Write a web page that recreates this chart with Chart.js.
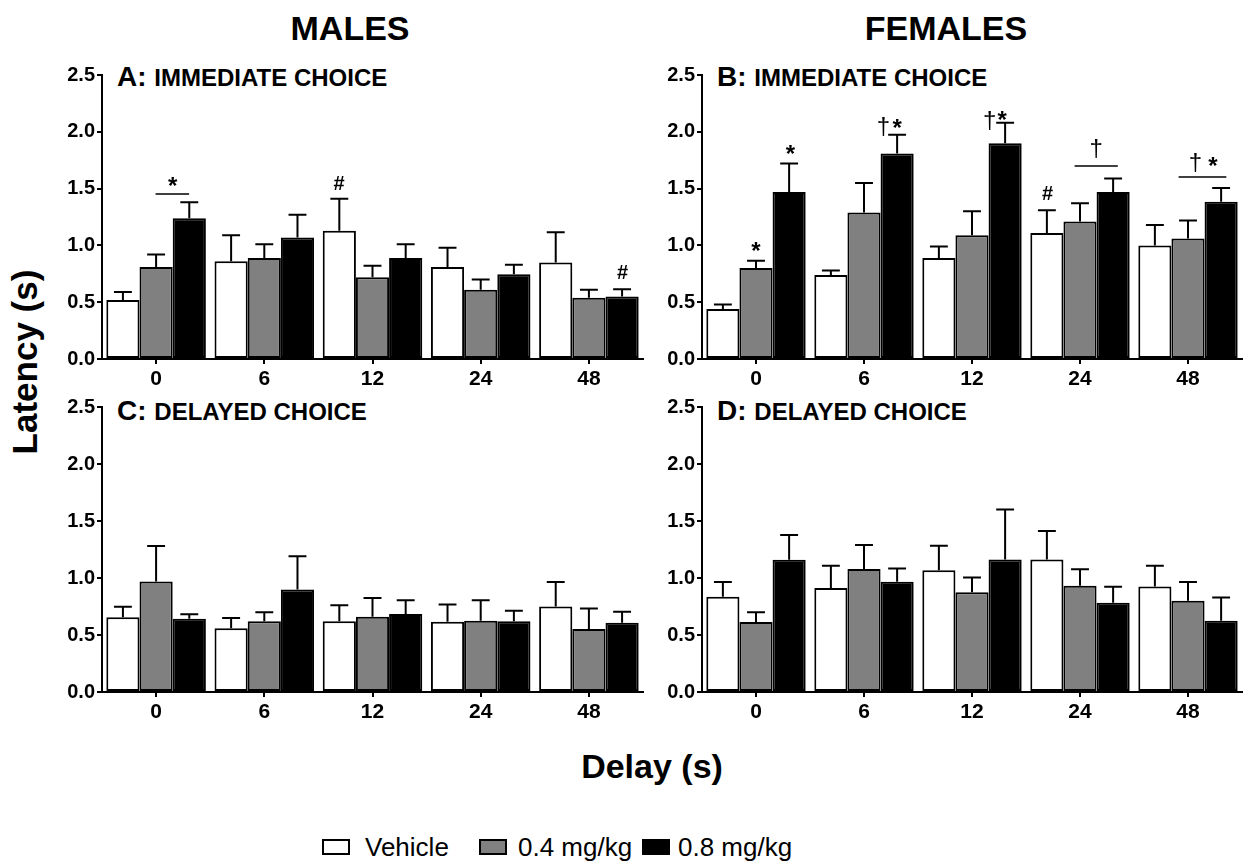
<!DOCTYPE html>
<html>
<head>
<meta charset="utf-8">
<script src="https://cdn.jsdelivr.net/npm/chart.js@4.4.0/dist/chart.umd.min.js"></script>
<style>
  body { margin: 0; width: 1250px; height: 863px; position: relative; overflow: hidden; background: #fff;
         font-family: "Liberation Sans", Arial, sans-serif; color: #000; }
  canvas { position: absolute; }
  .big { position: absolute; font-weight: bold; font-size: 34px; line-height: 34px; white-space: nowrap; }
  .ptitle { position: absolute; font-weight: bold; font-size: 28px; line-height: 28px; white-space: nowrap; }
  .ptitle span { font-size: 24px; }
  .box { position: absolute; top: 839px; width: 24px; height: 12px; border: 2px solid #000; }
  .leg { position: absolute; top: 834px; font-size: 26px; line-height: 26px; white-space: nowrap; }
</style>
</head>
<body>

<div class="big" style="left:350px; top:11px; transform:translateX(-50%);">MALES</div>
<div class="big" style="left:946px; top:11px; transform:translateX(-50%);">FEMALES</div>
<div class="big" style="left:24px; top:362px; font-size:35px; line-height:35px; transform:translate(-50%,-50%) rotate(-90deg);">Latency (s)</div>
<div class="big" style="left:652px; top:749px; transform:translateX(-50%);">Delay (s)</div>

<div class="ptitle" style="left:117px; top:63px;">A: <span>IMMEDIATE CHOICE</span></div>
<div class="ptitle" style="left:717px; top:63px;">B: <span>IMMEDIATE CHOICE</span></div>
<div class="ptitle" style="left:117px; top:397px;">C: <span>DELAYED CHOICE</span></div>
<div class="ptitle" style="left:717px; top:397px;">D: <span>DELAYED CHOICE</span></div>

<canvas id="panelA" width="610" height="335" style="left:40px; top:60px;"></canvas>
<canvas id="panelB" width="610" height="335" style="left:640px; top:60px;"></canvas>
<canvas id="panelC" width="610" height="335" style="left:40px; top:392px;"></canvas>
<canvas id="panelD" width="610" height="335" style="left:640px; top:392px;"></canvas>

<div class="box" style="left:322px; background:#fff;"></div>
<div class="leg" style="left:365px;">Vehicle</div>
<div class="box" style="left:479px; background:#808080;"></div>
<div class="leg" style="left:518px;">0.4 mg/kg</div>
<div class="box" style="left:642px; background:#000;"></div>
<div class="leg" style="left:678px;">0.8 mg/kg</div>

<script>
// Delay (s) categories
var delays = ["0", "6", "12", "24", "48"];
var yTicks = [0, 0.5, 1, 1.5, 2, 2.5];

// A: males, immediate choice
var maleImmVeh = [0.52, 0.86, 1.13, 0.81, 0.85];
var maleImmVehErr = [0.07, 0.23, 0.28, 0.17, 0.265];
var maleImmLow = [0.81, 0.89, 0.72, 0.61, 0.54];
var maleImmLowErr = [0.11, 0.12, 0.10, 0.09, 0.07];
var maleImmHigh = [1.24, 1.07, 0.89, 0.745, 0.55];
var maleImmHighErr = [0.14, 0.20, 0.12, 0.085, 0.065];

// B: females, immediate choice
var femImmVeh = [0.44, 0.74, 0.89, 1.11, 1.00];
var femImmVehErr = [0.04, 0.04, 0.10, 0.20, 0.18];
var femImmLow = [0.80, 1.29, 1.09, 1.21, 1.06];
var femImmLowErr = [0.065, 0.26, 0.21, 0.16, 0.16];
var femImmHigh = [1.47, 1.81, 1.90, 1.47, 1.385];
var femImmHighErr = [0.25, 0.165, 0.18, 0.12, 0.12];

// C: males, delayed choice
var maleDelVeh = [0.655, 0.56, 0.62, 0.617, 0.75];
var maleDelVehErr = [0.093, 0.09, 0.14, 0.15, 0.215];
var maleDelLow = [0.97, 0.62, 0.66, 0.625, 0.553];
var maleDelLowErr = [0.31, 0.08, 0.165, 0.18, 0.18];
var maleDelHigh = [0.643, 0.90, 0.684, 0.62, 0.608];
var maleDelHighErr = [0.04, 0.29, 0.12, 0.093, 0.096];

// D: females, delayed choice
var femDelVeh = [0.836, 0.912, 1.067, 1.163, 0.926];
var femDelVehErr = [0.13, 0.196, 0.216, 0.25, 0.182];
var femDelLow = [0.614, 1.079, 0.874, 0.932, 0.80];
var femDelLowErr = [0.086, 0.21, 0.13, 0.144, 0.165];
var femDelHigh = [1.16, 0.968, 1.163, 0.783, 0.625];
var femDelHighErr = [0.217, 0.116, 0.437, 0.141, 0.205];

// significance marks: x in category units, y in seconds
var maleImmMarks = [
  { x: 0.154, y: 1.566, t: "*" },
  { x: 1.69, y: 1.55, t: "#" },
  { x: 4.31, y: 0.77, t: "#" }
];
var maleImmLines = [{ x1: -0.005, x2: 0.305, y: 1.452 }];
var femImmMarks = [
  { x: 0.0, y: 0.99, t: "*" },
  { x: 0.318, y: 1.84, t: "*" },
  { x: 1.18, y: 2.05, t: "\u2020" },
  { x: 1.306, y: 2.075, t: "*" },
  { x: 2.163, y: 2.10, t: "\u2020" },
  { x: 2.28, y: 2.14, t: "*" },
  { x: 2.70, y: 1.464, t: "#" },
  { x: 3.15, y: 1.857, t: "\u2020" },
  { x: 4.068, y: 1.73, t: "\u2020" },
  { x: 4.23, y: 1.737, t: "*" }
];
var femImmLines = [
  { x1: 2.95, x2: 3.35, y: 1.70 },
  { x1: 3.913, x2: 4.355, y: 1.602 }
];

var FONT = '"Liberation Sans", Arial, sans-serif';
var markFont = {
  "*": "bold 24px " + FONT,
  "#": "bold 20px " + FONT,
  "\u2020": "24px " + FONT
};

// error bars, drawn upward from each bar top
var errorBars = {
  id: "errorBars",
  afterDatasetsDraw: function (chart) {
    var ctx = chart.ctx, ys = chart.scales.y;
    ctx.save();
    ctx.strokeStyle = "#000";
    ctx.lineWidth = 2;
    chart.data.datasets.forEach(function (ds, d) {
      chart.getDatasetMeta(d).data.forEach(function (bar, i) {
        var top = ys.getPixelForValue(ds.data[i] + ds.errors[i]);
        var half = bar.width * 0.27;
        ctx.beginPath();
        ctx.moveTo(bar.x, bar.y);
        ctx.lineTo(bar.x, top);
        ctx.moveTo(bar.x - half, top);
        ctx.lineTo(bar.x + half, top);
        ctx.stroke();
      });
    });
    ctx.restore();
  }
};

function sigPlugin(marks, lines) {
  return {
    id: "sigMarks",
    afterDraw: function (chart) {
      var ctx = chart.ctx, xs = chart.scales.x, ys = chart.scales.y;
      ctx.save();
      ctx.strokeStyle = "#000";
      ctx.fillStyle = "#000";
      ctx.lineWidth = 1.5;
      lines.forEach(function (l) {
        var yy = ys.getPixelForValue(l.y);
        ctx.beginPath();
        ctx.moveTo(xs.getPixelForValue(l.x1), yy);
        ctx.lineTo(xs.getPixelForValue(l.x2), yy);
        ctx.stroke();
      });
      ctx.textAlign = "center";
      ctx.textBaseline = "alphabetic";
      marks.forEach(function (m) {
        ctx.font = markFont[m.t];
        var mt = ctx.measureText(m.t);
        var px = xs.getPixelForValue(m.x);
        var py = ys.getPixelForValue(m.y);
        ctx.fillText(m.t, px, py + (mt.actualBoundingBoxAscent - mt.actualBoundingBoxDescent) / 2);
      });
      ctx.restore();
    }
  };
}

function makePanel(id, veh, vehErr, low, lowErr, high, highErr, marks, lines, pad) {
  var bar = { borderColor: "#000", borderWidth: 2, borderSkipped: false,
              categoryPercentage: 0.92, barPercentage: 1.0 };
  return new Chart(document.getElementById(id), {
    type: "bar",
    data: {
      labels: delays,
      datasets: [
        Object.assign({ label: "Vehicle", data: veh, errors: vehErr, backgroundColor: "#fff" }, bar),
        Object.assign({ label: "0.4 mg/kg", data: low, errors: lowErr, backgroundColor: "#808080" }, bar),
        Object.assign({ label: "0.8 mg/kg", data: high, errors: highErr, backgroundColor: "#000" }, bar)
      ]
    },
    options: {
      responsive: false,
      animation: false,
      layout: { padding: pad },
      plugins: { legend: { display: false }, tooltip: { enabled: false } },
      scales: {
        x: {
          grid: { offset: false, drawOnChartArea: false, tickLength: 5, color: "#000", lineWidth: 2 },
          border: { color: "#000", width: 2 },
          ticks: { color: "#000", padding: 3, maxRotation: 0,
                   font: { family: FONT, size: 21, weight: "bold" } },
          afterFit: function (s) { s.height = 35; }
        },
        y: {
          min: 0, max: 2.5,
          afterBuildTicks: function (s) { s.ticks = yTicks.map(function (v) { return { value: v }; }); },
          grid: { drawOnChartArea: false, tickLength: 5, color: "#000", lineWidth: 2 },
          border: { color: "#000", width: 2 },
          ticks: { color: "#000", padding: 2,
                   font: { family: FONT, size: 20, weight: "bold" },
                   callback: function (v) { return Number(v).toFixed(1); } },
          afterFit: function (s) { s.width = 62; }
        }
      }
    },
    plugins: [errorBars, sigPlugin(marks, lines)]
  });
}

makePanel("panelA", maleImmVeh, maleImmVehErr, maleImmLow, maleImmLowErr, maleImmHigh, maleImmHighErr,
          maleImmMarks, maleImmLines, { top: 15, right: 7, bottom: 1, left: 0 });
makePanel("panelB", femImmVeh, femImmVehErr, femImmLow, femImmLowErr, femImmHigh, femImmHighErr,
          femImmMarks, femImmLines, { top: 15, right: 8, bottom: 1, left: 0 });
makePanel("panelC", maleDelVeh, maleDelVehErr, maleDelLow, maleDelLowErr, maleDelHigh, maleDelHighErr,
          [], [], { top: 15, right: 7, bottom: 0, left: 0 });
makePanel("panelD", femDelVeh, femDelVehErr, femDelLow, femDelLowErr, femDelHigh, femDelHighErr,
          [], [], { top: 15, right: 8, bottom: 0, left: 0 });
</script>
</body>
</html>
